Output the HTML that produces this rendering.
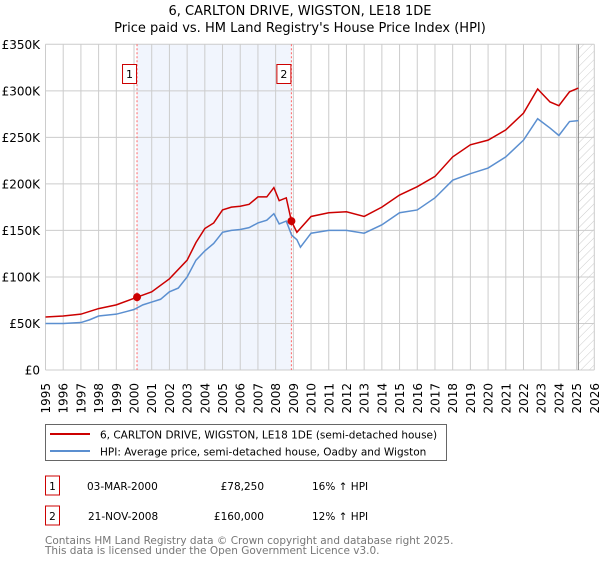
<!DOCTYPE html>
<html><head><meta charset="utf-8"><style>
body{margin:0;background:#fff;font-family:"DejaVu Sans","Liberation Sans",sans-serif;}
svg text{font-family:"DejaVu Sans","Liberation Sans",sans-serif;}
</style></head><body>
<svg id="c" width="600" height="560" xmlns="http://www.w3.org/2000/svg">
<defs><pattern id="hatch" width="6" height="6" patternUnits="userSpaceOnUse" patternTransform="rotate(45)"><line x1="0" y1="0" x2="0" y2="6" stroke="#ccc" stroke-width="1"/></pattern></defs>
<text x="300" y="15" text-anchor="middle" font-size="13">6, CARLTON DRIVE, WIGSTON, LE18 1DE</text>
<text x="300" y="32" text-anchor="middle" font-size="13">Price paid vs. HM Land Registry's House Price Index (HPI)</text>
<g id="plot"></g>
<rect x="45.5" y="424.5" width="401" height="36" fill="#fff" stroke="#666"/>
<line x1="50" y1="434" x2="90" y2="434" stroke="#cc0000" stroke-width="2"/>
<text x="100" y="438.5" font-size="10.5">6, CARLTON DRIVE, WIGSTON, LE18 1DE (semi-detached house)</text>
<line x1="50" y1="451" x2="90" y2="451" stroke="#5b8fd0" stroke-width="2"/>
<text x="100" y="455.5" font-size="10.5">HPI: Average price, semi-detached house, Oadby and Wigston</text>
<g>
<rect x="45.5" y="476" width="14" height="19" fill="#fff" stroke="#cc0000"/><text x="52.5" y="490" text-anchor="middle" font-size="10.5">1</text>
<text x="87" y="490" font-size="10.5">03-MAR-2000</text><text x="264" y="490" text-anchor="end" font-size="10.5">£78,250</text><text x="312" y="490" font-size="10.5">16% ↑ HPI</text></g>
<g>
<rect x="45.5" y="506" width="14" height="19" fill="#fff" stroke="#cc0000"/><text x="52.5" y="520" text-anchor="middle" font-size="10.5">2</text>
<text x="88" y="520" font-size="10.5">21-NOV-2008</text><text x="264" y="520" text-anchor="end" font-size="10.5">£160,000</text><text x="312" y="520" font-size="10.5">12% ↑ HPI</text></g>
<text x="45" y="544" font-size="10.5" fill="#777">Contains HM Land Registry data © Crown copyright and database right 2025.</text>
<text x="45" y="554" font-size="10.5" fill="#777">This data is licensed under the Open Government Licence v3.0.</text>
</svg>
<script>
const hpiYears=[1995,1996,1997,1997.5,1998,1999,2000,2000.5,2001,2001.5,2002,2002.5,2003,2003.5,2004,2004.5,2005,2005.5,2006,2006.5,2007,2007.5,2007.9,2008.2,2008.6,2008.9,2009.2,2009.4,2010,2011,2012,2013,2014,2015,2016,2017,2018,2019,2020,2021,2022,2022.8,2023.5,2024,2024.6,2025.1];
const hpiValues=[50,50,51,54,58,60,65,70,73,76,84,88,100,118,128,136,148,150,151,153,158,161,168,157,160,145,140,132,147,150,150,147,156,169,172,185,204,211,217,229,247,270,260,252,267,268];
const propYears=[1995,1996,1997,1998,1999,2000.17,2001,2002,2003,2003.5,2004,2004.5,2005,2005.5,2006,2006.5,2007,2007.5,2007.9,2008.2,2008.6,2008.89,2009.2,2010,2011,2012,2013,2014,2015,2016,2017,2018,2019,2020,2021,2022,2022.8,2023.5,2024,2024.6,2025.1];
const propValues=[57,58,60,66,70,78.25,84,98,118,137,152,158,172,175,176,178,186,186,196,182,185,160,148,165,169,170,165,175,188,197,208,229,242,247,258,276,302,288,284,299,303];
const saleYears=[2000.17,2008.89];
const saleValues=[78.25,160];
const yTicks=[0,50,100,150,200,250,300,350];
const yTickLabels=["£0","£50K","£100K","£150K","£200K","£250K","£300K","£350K"];
const NS="http://www.w3.org/2000/svg";
const X0=45.5,X1=594.3,Y0=370,Y1=44.3;
const x=yr=>X0+(yr-1995)*(X1-X0)/31;
const y=v=>Y0-v*(Y0-Y1)/350;
const g=document.getElementById('plot');
function el(t,a){const e=document.createElementNS(NS,t);for(const k in a)e.setAttribute(k,a[k]);g.appendChild(e);return e;}
let r=el('rect',{x:x(2000.17),y:Y1,width:x(2008.89)-x(2000.17),height:Y0-Y1,fill:'#eef3fc',opacity:0.8});


r=el('rect',{x:x(2025.1),y:Y1,width:X1-x(2025.1),height:Y0-Y1,fill:'url(#hatch)'});


for(let yr=1995;yr<=2026;yr++){
  const l=el('line',{x1:x(yr),x2:x(yr),y1:Y1,y2:Y0,stroke:'#ccc','stroke-width':1});
  
  
  const t=el('text',{x:0,y:0,'font-size':12,'text-anchor':'end',transform:`translate(${x(yr)+4.5},383) rotate(-90)`});
  t.textContent=yr;
  
  
}
yTicks.forEach((v,i)=>{
  const l=el('line',{x1:X0,x2:X1,y1:y(v),y2:y(v),stroke:'#ccc','stroke-width':1});
  
  
  const t=el('text',{x:40,y:y(v)+4.5,'font-size':12,'text-anchor':'end'});
  t.textContent=yTickLabels[i];
  
  
});
let v=el('line',{x1:x(2025.1),x2:x(2025.1),y1:Y1,y2:Y0,stroke:'#888','stroke-width':1});


saleYears.forEach((yr,i)=>{
  const l=el('line',{x1:x(yr),x2:x(yr),y1:Y1,y2:Y0,stroke:'#f66','stroke-width':1,'stroke-dasharray':'2,2'});
  
  
  const b=el('rect',{x:x(yr)-14.5,y:64.5,width:14,height:19,fill:'#fff',stroke:'#cc0000'});
  
  
  const t=el('text',{x:x(yr)-7.5,y:78,'font-size':11,'text-anchor':'middle'});
  t.textContent=String(i+1);
  
  
});
let p=el('polyline',{points:hpiYears.map((yr,i)=>x(yr)+','+y(hpiValues[i])).join(' '),fill:'none',stroke:'#5b8fd0','stroke-width':1.5});


p=el('polyline',{points:propYears.map((yr,i)=>x(yr)+','+y(propValues[i])).join(' '),fill:'none',stroke:'#cc0000','stroke-width':1.5});


saleYears.forEach((yr,i)=>{
  const c=el('circle',{cx:x(yr),cy:y(saleValues[i]),r:4,fill:'#cc0000'});
  
  
});
</script>
</body></html>
